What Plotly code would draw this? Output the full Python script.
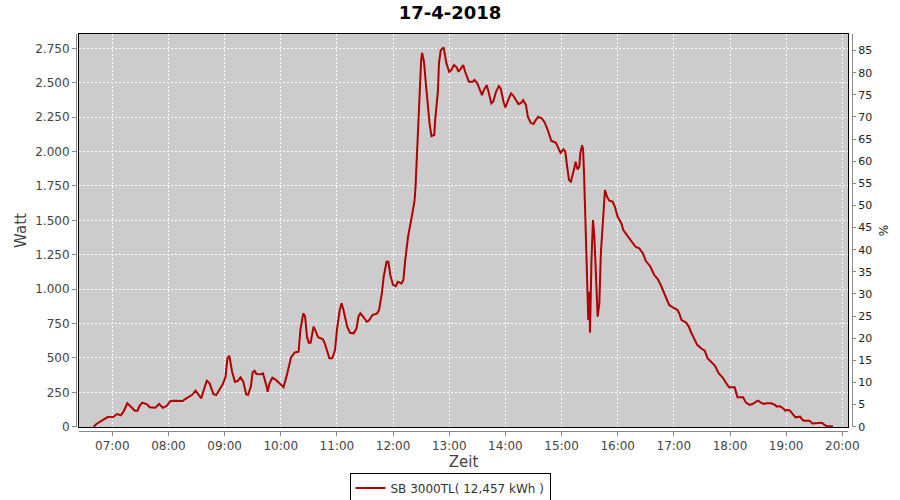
import plotly.graph_objects as go

DAY = "2018-04-17"

times = [
    "06:40", "06:43", "06:55", "07:01", "07:05", "07:09", "07:12", "07:15", "07:16", "07:21",
    "07:24", "07:27", "07:29", "07:32", "07:37", "07:40", "07:46", "07:50", "07:54", "07:58",
    "08:02", "08:05", "08:15", "08:19", "08:25", "08:29", "08:33", "08:35", "08:38", "08:41",
    "08:44", "08:48", "08:51", "08:55", "08:58", "09:01", "09:03", "09:05", "09:08", "09:11",
    "09:14", "09:17", "09:20", "09:23", "09:25", "09:28", "09:30", "09:32", "09:34", "09:39",
    "09:41", "09:45", "09:46", "09:48", "09:51", "09:54", "09:57", "10:00", "10:03", "10:07",
    "10:11", "10:15", "10:19", "10:21", "10:24", "10:26", "10:28", "10:30", "10:32", "10:35",
    "10:36", "10:40", "10:45", "10:47", "10:50", "10:52", "10:55", "10:58", "11:00", "11:03",
    "11:05", "11:07", "11:11", "11:14", "11:18", "11:21", "11:23", "11:25", "11:28", "11:32",
    "11:34", "11:38", "11:43", "11:45", "11:48", "11:50", "11:53", "11:55", "11:57", "12:00",
    "12:03", "12:05", "12:09", "12:11", "12:13", "12:16", "12:20", "12:23", "12:24", "12:25",
    "12:26", "12:27", "12:28", "12:30", "12:31", "12:33", "12:35", "12:37", "12:39", "12:41",
    "12:44", "12:45", "12:48", "12:49", "12:51", "12:54", "12:55", "12:57", "13:00", "13:02",
    "13:05", "13:08", "13:10", "13:15", "13:17", "13:20", "13:21", "13:25", "13:27", "13:30",
    "13:33", "13:35", "13:37", "13:40", "13:42", "13:45", "13:47", "13:50", "13:53", "13:55",
    "13:58", "14:00", "14:03", "14:06", "14:08", "14:11", "14:14", "14:17", "14:19", "14:22",
    "14:24", "14:27", "14:30", "14:32", "14:35", "14:39", "14:42", "14:45", "14:49", "14:54",
    "14:58", "14:59", "15:02", "15:04", "15:06", "15:08", "15:10", "15:12", "15:14", "15:15",
    "15:17", "15:19", "15:20", "15:22", "15:23", "15:24", "15:25", "15:27", "15:28", "15:28:36",
    "15:29:36", "15:30:24", "15:32", "15:33:36", "15:35", "15:36", "15:37", "15:38:36", "15:40:24", "15:42",
    "15:44", "15:45", "15:46:24", "15:48:36", "15:51", "15:54:36", "15:57", "16:00", "16:04", "16:06",
    "16:11", "16:15", "16:19", "16:23", "16:27", "16:30", "16:35", "16:39", "16:43", "16:46",
    "16:51", "16:55", "16:59", "17:04", "17:06", "17:08", "17:13", "17:16", "17:18", "17:22",
    "17:25", "17:29", "17:33", "17:36", "17:40", "17:44", "17:48", "17:52", "17:56", "17:59",
    "18:05", "18:07", "18:08", "18:14", "18:17", "18:21", "18:24", "18:28", "18:30", "18:33",
    "18:36", "18:39", "18:44", "18:48", "18:50", "18:53", "18:57", "18:59", "19:02", "19:04",
    "19:07", "19:10", "19:15", "19:17", "19:19", "19:25", "19:28", "19:34", "19:38", "19:40",
    "19:43", "19:50",
]

watt = [
    0, 20, 70, 70, 92, 83, 109, 167, 170, 138,
    116, 116, 150, 175, 163, 141, 138, 165, 138, 150,
    185, 189, 187, 206, 230, 262, 218, 206, 272, 334,
    315, 238, 230, 272, 308, 363, 497, 516, 400, 327,
    332, 359, 327, 235, 230, 291, 395, 407, 383, 381,
    388, 291, 254, 315, 356, 344, 323, 308, 288, 388,
    504, 540, 545, 703, 824, 800, 654, 610, 612, 727,
    715, 650, 635, 606, 538, 497, 497, 557, 703, 848,
    897, 848, 727, 683, 679, 715, 800, 824, 800, 763,
    770, 812, 824, 848, 969, 1090, 1199, 1199, 1103, 1030,
    1022, 1054, 1042, 1066, 1211, 1381, 1526, 1647, 1744, 1914,
    2108, 2278, 2447, 2665, 2718, 2653, 2496, 2326, 2205, 2113,
    2120, 2229, 2447, 2641, 2738, 2757, 2714, 2641, 2580, 2590,
    2629, 2612, 2580, 2629, 2580, 2525, 2508, 2508, 2520, 2496,
    2435, 2411, 2447, 2483, 2435, 2350, 2362, 2435, 2476, 2459,
    2362, 2321, 2374, 2423, 2411, 2374, 2345, 2355, 2374, 2338,
    2253, 2209, 2200, 2224, 2253, 2241, 2212, 2162, 2079, 2064,
    1999, 1990, 2016, 1999, 1890, 1793, 1781, 1829, 1890, 1926,
    1871, 1890, 1987, 2047, 2016, 1853, 1587, 1260, 981, 775,
    981, 683, 1211, 1502, 1393, 1236, 1042, 800, 897, 1260,
    1466, 1624, 1720, 1672, 1643, 1636, 1599, 1526, 1478, 1430,
    1381, 1344, 1308, 1297, 1260, 1206, 1163, 1103, 1071, 1030,
    945, 885, 868, 848, 820, 777, 757, 728, 692, 631,
    595, 570, 553, 498, 466, 442, 388, 359, 316, 286,
    286, 243, 214, 214, 175, 158, 165, 182, 189, 175,
    165, 170, 170, 158, 146, 150, 133, 117, 121, 117,
    92, 68, 73, 53, 44, 44, 24, 24, 29, 19,
    5, 2,
]

series_name = "SB 3000TL( 12,457 kWh )"
title_text = "17-4-2018"
x_range = [DAY + " 06:24:25", DAY + " 20:06:05"]
watt_range = [-2.2, 2854.8]
pct_range = [-0.07, 88.74]

x_vals = [f"{DAY} {t}" if len(t) > 5 else f"{DAY} {t}:00" for t in times]

FONT = "DejaVu Sans"
W, H = 900, 500
L, R, T, B = 79, 848, 34, 427
xdom = [L / W, R / W]
ydom = [1 - B / H, 1 - T / H]
grid_dash = "2px,2px"

fig = go.Figure()
fig.add_trace(go.Scatter(
    x=x_vals, y=watt, mode="lines", name=series_name,
    line=dict(color="#B00000", width=2), xaxis="x", yaxis="y",
))
# registration traces for the offset axes
fig.add_trace(go.Scatter(x=[], y=[], xaxis="x2", yaxis="y2", showlegend=False, hoverinfo="skip"))
fig.add_trace(go.Scatter(x=[], y=[], xaxis="x", yaxis="y3", showlegend=False, hoverinfo="skip"))

fig.update_layout(
    width=W, height=H,
    margin=dict(l=0, r=0, t=0, b=0, autoexpand=False),
    paper_bgcolor="white",
    plot_bgcolor="#CCCCCC",
    separators=",.",
    font=dict(family=FONT, size=12, color="#444444"),
    title=dict(text=f"<b>{title_text}</b>", x=0.5, xanchor="center",
               y=1 - 12.5 / H, yanchor="middle", yref="container",
               font=dict(family=FONT, size=18, color="black")),
    showlegend=True,
    legend=dict(orientation="h", x=0.5, xanchor="center", y=1 - 488 / H, yanchor="middle",
                bordercolor="black", borderwidth=1, bgcolor="white",
                font=dict(family=FONT, size=12, color="#333333"),
                itemwidth=30, tracegroupgap=0),
    xaxis=dict(
        domain=xdom, type="date", range=x_range, anchor="y",
        tick0=DAY + " 07:00", dtick=3600000,
        showgrid=True, gridcolor="white", gridwidth=1, griddash=grid_dash,
        showticklabels=False, ticks="",
        showline=True, linecolor="black", linewidth=1, mirror=True,
        zeroline=False, fixedrange=True,
    ),
    yaxis=dict(
        domain=ydom, range=watt_range, anchor="x",
        tick0=0, dtick=250,
        showgrid=True, gridcolor="white", gridwidth=1, griddash=grid_dash,
        showticklabels=False, ticks="",
        showline=True, linecolor="black", linewidth=1, mirror=True,
        zeroline=False, fixedrange=True,
    ),
    xaxis2=dict(
        domain=xdom, type="date", range=x_range, overlaying="x", matches="x",
        anchor="free", position=1 - 431 / H,
        tick0=DAY + " 07:00", dtick=3600000, tickformat="%H:%M",
        ticks="outside", ticklen=4, tickcolor="#888888",
        tickfont=dict(family=FONT, size=12, color="#444444"),
        showgrid=False, zeroline=False,
        showline=True, linecolor="#888888", linewidth=1,
        title=dict(text="Zeit", font=dict(family=FONT, size=15, color="#444444"), standoff=3),
        automargin=False,
    ),
    yaxis2=dict(
        domain=ydom, range=watt_range, overlaying="y", matches="y",
        anchor="free", position=76 / W, side="left",
        tick0=0, dtick=250, tickformat=",d",
        ticks="outside", ticklen=4, tickcolor="#888888",
        tickfont=dict(family=FONT, size=12, color="#444444"),
        showgrid=False, zeroline=False,
        showline=True, linecolor="#888888", linewidth=1,
        title=dict(text="Watt", font=dict(family=FONT, size=15, color="#444444"), standoff=3),
        automargin=False,
    ),
    yaxis3=dict(
        domain=ydom, range=pct_range, overlaying="y",
        anchor="free", position=852 / W, side="right",
        tick0=0, dtick=5,
        ticks="outside", ticklen=3, tickcolor="#888888",
        tickfont=dict(family=FONT, size=11, color="#222222"),
        showgrid=False, zeroline=False,
        showline=True, linecolor="#888888", linewidth=1,
        title=dict(text="%", font=dict(family=FONT, size=12, color="#222222"), standoff=8),
        automargin=False,
    ),
)

fig.write_html("out.html", config={"displayModeBar": False},
               post_script="document.body.style.margin='0';")
